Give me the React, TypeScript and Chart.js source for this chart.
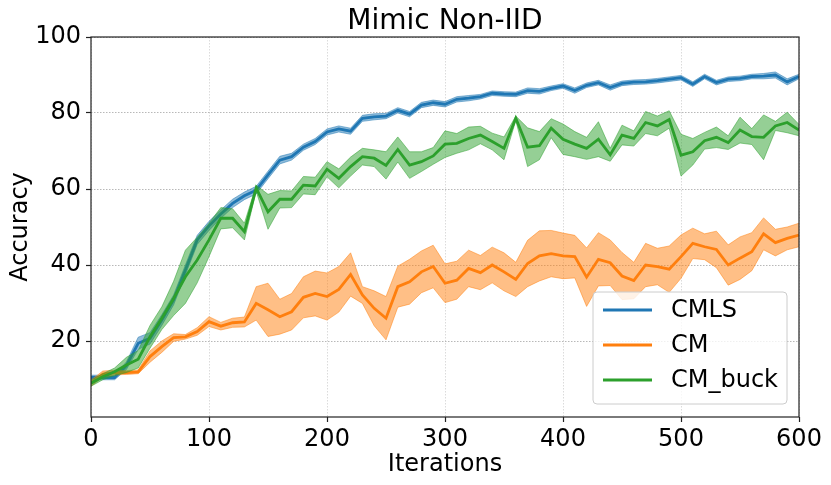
import React, { useEffect, useRef } from 'react';
import { Chart, registerables } from 'chart.js';

Chart.register(...registerables);

const FONT = 'DejaVu Sans';

const chartTitle = 'Mimic Non-IID';
const xTitle = 'Iterations';
const yTitle = 'Accuracy';

const iterations = [
  0, 10, 20, 30, 40, 50, 60, 70, 80, 90,
  100, 110, 120, 130, 140, 150, 160, 170, 180, 190,
  200, 210, 220, 230, 240, 250, 260, 270, 280, 290,
  300, 310, 320, 330, 340, 350, 360, 370, 380, 390,
  400, 410, 420, 430, 440, 450, 460, 470, 480, 490,
  500, 510, 520, 530, 540, 550, 560, 570, 580, 590,
  600,
];

const seriesNames = ['CMLS', 'CM', 'CM_buck'];
const lineColors = ['#1f77b4', '#ff7f0e', '#2ca02c'];
const bandColors = ['rgba(31,119,180,0.5)', 'rgba(255,127,14,0.5)', 'rgba(44,160,44,0.5)'];

const cmlsMean = [
  10.4, 10.4, 10.4, 13.5, 19.4, 20.7, 25.5, 30.8, 38.7, 46.6,
  50.3, 53.4, 56.2, 58.2, 59.7, 63.7, 67.6, 68.5, 71.0, 72.5,
  75.0, 75.8, 75.2, 78.6, 79.0, 79.2, 80.7, 79.7, 82.1, 82.7,
  82.3, 83.6, 83.9, 84.3, 85.2, 85.0, 84.9, 85.9, 85.7, 86.5,
  87.1, 85.9, 87.3, 88.0, 86.7, 87.8, 88.1, 88.2, 88.5, 88.9,
  89.3, 87.6, 89.6, 88.0, 88.9, 89.1, 89.6, 89.7, 90.0, 88.2,
  89.6,
];
const cmlsStd = [
  0.6, 0.6, 0.6, 1.0, 1.6, 1.5, 1.4, 1.3, 1.3, 1.2,
  1.2, 1.1, 1.1, 1.0, 1.0, 1.0, 1.0, 0.9, 0.8, 0.8,
  0.8, 0.8, 0.8, 0.8, 0.8, 0.7, 0.7, 0.7, 0.7, 0.7,
  0.7, 0.7, 0.7, 0.6, 0.6, 0.6, 0.6, 0.7, 0.7, 0.6,
  0.6, 0.7, 0.6, 0.6, 0.7, 0.6, 0.6, 0.6, 0.6, 0.6,
  0.6, 0.6, 0.6, 0.6, 0.6, 0.6, 0.6, 0.7, 0.8, 0.8,
  0.6,
];

const cmMean = [
  8.9, 11.3, 11.7, 11.7, 11.9, 15.9, 18.5, 20.9, 21.1, 22.5,
  25.1, 23.9, 24.8, 25.0, 29.9, 28.2, 26.4, 27.7, 31.5, 32.5,
  31.7, 33.6, 37.5, 32.1, 28.6, 26.0, 34.3, 35.6, 38.2, 39.6,
  35.2, 36.0, 39.1, 38.0, 40.0, 38.2, 36.2, 40.4, 42.4, 43.0,
  42.4, 42.2, 36.8, 41.5, 40.6, 37.1, 35.9, 40.0, 39.6, 38.9,
  42.2, 45.7, 44.8, 44.1, 40.0, 41.8, 43.5, 48.2, 45.9, 47.0,
  47.9,
];
const cmStd = [
  0.8, 0.8, 0.6, 0.5, 0.5, 1.5, 1.5, 1.0, 0.6, 1.0,
  1.3, 1.0, 1.2, 1.3, 4.4, 7.0, 4.6, 4.8, 5.4, 5.9,
  6.2, 6.0, 5.7, 2.2, 4.6, 5.7, 5.4, 5.9, 5.5, 5.6,
  5.1, 5.0, 4.8, 4.5, 4.7, 5.0, 4.5, 6.1, 6.6, 6.1,
  6.0, 5.6, 7.7, 7.0, 6.0, 6.2, 4.8, 5.7, 4.8, 6.1,
  5.7, 4.0, 3.4, 4.8, 5.3, 5.6, 5.0, 4.2, 3.5, 3.0,
  3.1,
];

const buckMean = [
  8.9, 10.6, 11.9, 13.7, 15.2, 21.1, 26.0, 31.2, 36.9, 41.3,
  46.6, 52.3, 52.3, 48.8, 60.2, 54.0, 57.3, 57.3, 61.0, 60.8,
  65.2, 62.8, 65.9, 68.5, 68.1, 66.2, 70.4, 66.3, 67.2, 68.7,
  71.8, 72.0, 73.3, 74.2, 72.5, 70.7, 78.6, 71.0, 71.4, 76.0,
  73.1, 71.8, 70.7, 73.1, 69.0, 74.2, 73.3, 77.5, 76.6, 78.3,
  68.9, 69.8, 72.7, 73.6, 72.2, 75.5, 73.8, 73.6, 76.6, 77.5,
  75.5,
];
const buckStd = [
  0.8, 0.8, 1.0, 2.0, 2.3, 3.0, 3.0, 4.5, 7.0, 6.0,
  4.4, 2.8, 2.5, 2.2, 0.8, 4.6, 2.3, 2.2, 2.3, 2.3,
  2.0, 2.5, 2.5, 2.2, 2.2, 3.6, 3.3, 3.5, 2.6, 2.2,
  3.5, 2.6, 3.0, 2.3, 2.2, 3.0, 0.6, 5.1, 3.7, 2.5,
  4.0, 3.3, 2.9, 4.6, 1.7, 2.6, 2.0, 2.9, 2.6, 2.3,
  5.5, 3.5, 2.2, 2.7, 1.8, 3.4, 2.1, 5.9, 1.2, 2.7,
  1.5,
];

const xTicks = [0, 100, 200, 300, 400, 500, 600];
const yTicks = [20, 40, 60, 80, 100];

const means = [cmlsMean, cmMean, buckMean];
const stds = [cmlsStd, cmStd, buckStd];

// spines, title and the in-axes legend, drawn the way matplotlib places them
const decorPlugin = {
  id: 'decor',
  afterDraw(chart: Chart) {
    const { ctx, chartArea } = chart;
    const { left, right, top, bottom } = chartArea;
    ctx.save();

    ctx.strokeStyle = '#222';
    ctx.lineWidth = 1.2;
    ctx.strokeRect(left, top, right - left, bottom - top);

    ctx.fillStyle = '#000';
    ctx.font = `28px "${FONT}"`;
    ctx.textAlign = 'center';
    ctx.textBaseline = 'alphabetic';
    ctx.fillText(chartTitle, (left + right) / 2, 29);

    const w = 194;
    const h = 112;
    const bx = right - 12 - w;
    const by = bottom - 13 - h;
    ctx.beginPath();
    ctx.roundRect(bx, by, w, h, 4);
    ctx.fillStyle = 'rgba(255,255,255,0.8)';
    ctx.fill();
    ctx.strokeStyle = '#cccccc';
    ctx.lineWidth = 1;
    ctx.stroke();

    ctx.font = `24px "${FONT}"`;
    ctx.textAlign = 'left';
    ctx.textBaseline = 'middle';
    seriesNames.forEach((name, i) => {
      const ly = by + 18 + i * 35;
      ctx.beginPath();
      ctx.moveTo(bx + 10, ly);
      ctx.lineTo(bx + 59, ly);
      ctx.strokeStyle = lineColors[i];
      ctx.lineWidth = 2.8;
      ctx.stroke();
      ctx.fillStyle = '#000';
      ctx.fillText(name, bx + 78, ly + 1);
    });

    ctx.restore();
  },
};

export default function App() {
  const canvasRef = useRef<HTMLCanvasElement>(null);
  const chartRef = useRef<Chart | null>(null);

  useEffect(() => {
    if (!canvasRef.current) return;
    const ctx = canvasRef.current.getContext('2d');
    if (!ctx) return;

    const datasets: any[] = [];
    seriesNames.forEach((name, i) => {
      const mean = means[i];
      const std = stds[i];
      const base = (3 - i) * 3;
      datasets.push({
        label: name + ' upper',
        data: iterations.map((x, j) => ({ x, y: mean[j] + std[j] })),
        borderColor: bandColors[i],
        borderWidth: 1,
        backgroundColor: bandColors[i],
        pointRadius: 0,
        fill: '+1',
        order: base + 2,
      });
      datasets.push({
        label: name + ' lower',
        data: iterations.map((x, j) => ({ x, y: mean[j] - std[j] })),
        borderColor: bandColors[i],
        borderWidth: 1,
        pointRadius: 0,
        fill: false,
        order: base + 1,
      });
      datasets.push({
        label: name,
        data: iterations.map((x, j) => ({ x, y: mean[j] })),
        borderColor: lineColors[i],
        borderWidth: 2.8,
        pointRadius: 0,
        fill: false,
        order: base,
      });
    });

    chartRef.current = new Chart(ctx, {
      type: 'line',
      data: { datasets },
      options: {
        responsive: true,
        maintainAspectRatio: false,
        animation: false,
        layout: { padding: { left: 0, right: 32, top: 37, bottom: 0 } },
        plugins: {
          legend: { display: false },
          title: { display: false },
          tooltip: { enabled: false },
        },
        scales: {
          x: {
            type: 'linear',
            min: 0,
            max: 600,
            afterBuildTicks: (s: any) => {
              s.ticks = xTicks.map((v) => ({ value: v }));
            },
            afterFit: (s: any) => {
              s.height = 68;
              s.paddingLeft = 0;
              s.paddingRight = 0;
            },
            ticks: {
              color: '#000',
              font: { family: FONT, size: 24 },
              padding: 3,
              maxRotation: 0,
            },
            grid: {
              color: '#d2d2d2',
              lineWidth: 0.8,
              tickColor: '#222',
              tickLength: 5,
              tickWidth: 1.2,
            },
            border: { display: false, dash: [1.5, 1.5] },
            title: {
              display: true,
              text: xTitle,
              color: '#000',
              font: { family: FONT, size: 24 },
              padding: { top: 0, bottom: 6 },
            },
          },
          y: {
            min: 0,
            max: 100,
            afterBuildTicks: (s: any) => {
              s.ticks = yTicks.map((v) => ({ value: v }));
            },
            afterFit: (s: any) => {
              s.width = 91;
              s.paddingTop = 0;
              s.paddingBottom = 0;
            },
            ticks: {
              color: '#000',
              font: { family: FONT, size: 24 },
              padding: 5,
            },
            grid: {
              color: '#a6a6a6',
              lineWidth: 0.8,
              tickColor: '#222',
              tickLength: 5,
              tickWidth: 1.2,
            },
            border: { display: false, dash: [1.5, 1.5] },
            title: {
              display: true,
              text: yTitle,
              color: '#000',
              font: { family: FONT, size: 24 },
              padding: { top: 6, bottom: 0 },
            },
          },
        },
      },
      plugins: [decorPlugin],
    });

    return () => {
      if (chartRef.current) {
        chartRef.current.destroy();
        chartRef.current = null;
      }
    };
  }, []);

  return (
    <div style={{ position: 'fixed', left: 0, top: 0, width: 831, height: 485, background: '#fff' }}>
      <canvas ref={canvasRef} />
    </div>
  );
}
